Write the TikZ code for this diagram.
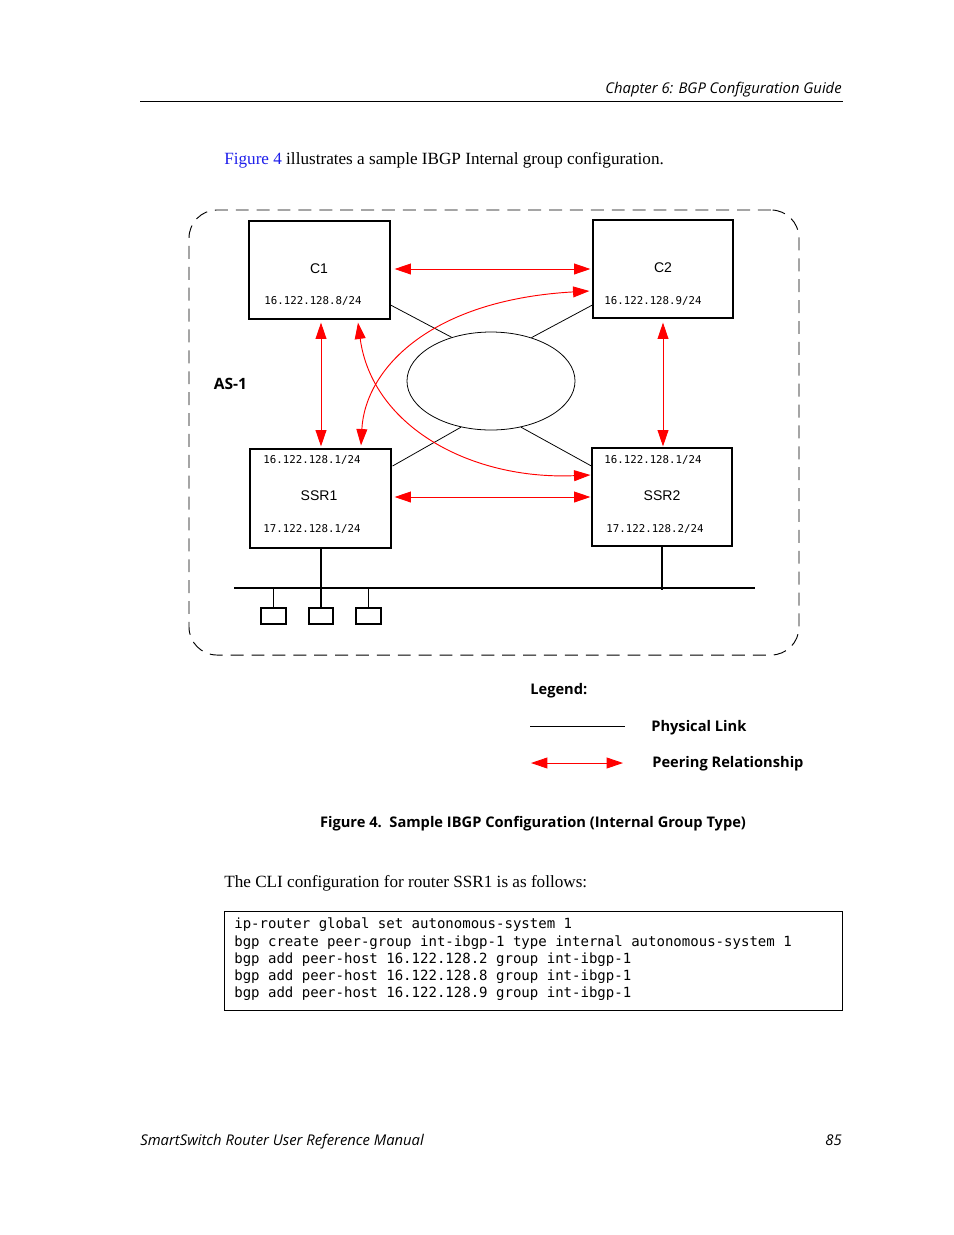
\documentclass[tikz,border=0pt]{standalone}
\usepackage{fontspec}
\setmainfont{Liberation Serif}
\newfontfamily\fsans{Open Sans}
\newfontfamily\fhelv{Liberation Sans}
\newfontfamily\fmono{DejaVu Sans Mono}
\usetikzlibrary{arrows.meta,shapes.geometric,calc}
\definecolor{linkblue}{RGB}{30,30,235}
\begin{document}
\begin{tikzpicture}[x=0.6415pt,y=-0.6415pt,
  box/.style={draw,line width=0.75pt,rectangle,inner sep=0pt},
  phys/.style={line width=0.5pt},
  bus/.style={line width=0.7pt},
  peer/.style={red,line width=0.6pt,{Triangle[length=10.5pt,width=7pt]}-{Triangle[length=10.5pt,width=7pt]}},
  lbl/.style={inner sep=0pt,anchor=base,font=\fhelv\fontsize{9}{10}\selectfont},
  ip/.style={inner sep=0pt,anchor=base,font=\fmono\fontsize{6.9}{8}\selectfont},
  hd/.style={inner sep=0pt,anchor=base,font=\fsans\bfseries\fontsize{9.4}{11}\selectfont},
  codeline/.style={inner sep=0pt,anchor=base west,font=\fmono\fontsize{9}{10}\selectfont},
  body/.style={inner sep=0pt,anchor=base west,font=\fontsize{11}{13}\selectfont},
  page/.style={inner sep=0pt,font=\fsans\itshape\fontsize{9.5}{11}\selectfont}
]
\useasboundingbox[fill=white] (0,0) rectangle (954,1235);

% header
\node[page,anchor=base east] (hdr) at (842,93) {Chapter 6: BGP Configuration Guide};
\coordinate (ruleL) at (140,101);
\coordinate (ruleR) at (843,101);
\draw[line width=0.6pt] (ruleL) -- (ruleR);

\node[body] (intro) at (224,164) {\textcolor{linkblue}{Figure 4} illustrates a sample IBGP Internal group configuration.};

% AS border
\node[draw,dashed,dash pattern=on 8.3pt off 5.1pt,line width=0.6pt,rounded corners=18pt,minimum width=391.3pt,minimum height=285.5pt,inner sep=0pt] (AS) at (494,432.5) {};
\node[hd,font=\fsans\bfseries\fontsize{10}{12}\selectfont] (aslbl) at (230.5,389) {AS-1};

% routers
\node[box,minimum width=90.45pt,minimum height=62.87pt] (C1) at (319.5,270) {};
\node[box,minimum width=89.81pt,minimum height=62.87pt] (C2) at (663,269) {};
\node[box,minimum width=90.45pt,minimum height=63.51pt] (SSR1) at (320.5,498.5) {};
\node[box,minimum width=89.81pt,minimum height=62.87pt] (SSR2) at (662,497) {};

\node[lbl] (C1n) at (319,273) {C1};
\node[ip] (C1ip) at (313,304) {16.122.128.8/24};
\node[lbl] (C2n) at (663,272) {C2};
\node[ip] (C2ip) at (653,304) {16.122.128.9/24};
\node[ip] (S1a) at (312,463) {16.122.128.1/24};
\node[lbl] (S1n) at (319,500) {SSR1};
\node[ip] (S1b) at (312,532) {17.122.128.1/24};
\node[ip] (S2a) at (653,463) {16.122.128.1/24};
\node[lbl] (S2n) at (662,500) {SSR2};
\node[ip] (S2b) at (655,532) {17.122.128.2/24};

% cloud
\node[draw,ellipse,line width=0.5pt,minimum width=107.8pt,minimum height=62.87pt,inner sep=0pt] (E) at (491,381) {};

% physical links
\draw[phys] ($(C1.east)+(0,35)$) -- (E.132);
\draw[phys] ($(C2.west)+(0,36)$) -- (E.47);
\draw[phys] ($(SSR1.east)+(1,-32.5)$) -- (E.237);
\draw[phys] ($(SSR2.west)+(0,-31)$) -- (E.303);

% LAN
\coordinate (busL) at (234,588);
\coordinate (busR) at (755,588);
\draw[bus] (busL) -- (busR);
\node[draw,line width=0.7pt,minimum width=16.04pt,minimum height=10.26pt,inner sep=0pt] (T1) at (273.5,616) {};
\node[draw,line width=0.7pt,minimum width=15.4pt,minimum height=10.26pt,inner sep=0pt] (T2) at (321,616) {};
\node[draw,line width=0.7pt,minimum width=16.04pt,minimum height=10.26pt,inner sep=0pt] (T3) at (368.5,616) {};
\draw[bus] (T1.north) -- (T1.north |- busL);
\draw[bus] (T3.north) -- (T3.north |- busL);
\draw[bus] (SSR1.south -| T2.north) -- (T2.north);
\draw[bus] (SSR2.south) -- ($(SSR2.south |- busL)+(0,2)$);

% peering
\draw[peer] ($(C1.east)+(4,-1)$) -- ($(C2.west)+(-2,0)$);
\draw[peer] ($(SSR1.east)+(3,-1.5)$) -- ($(SSR2.west)+(-1,0)$);
\draw[peer] ($(C1.south)+(1.5,3)$) -- ($(SSR1.north)+(0.5,-2)$);
\draw[peer] ($(C2.south)+(0,4)$) -- ($(SSR2.north)+(1,-1)$);
\draw[peer] ($(C1.south)+(38.5,3)$) .. controls +(14,103) and +(-121,5) .. ($(SSR2.west)+(-1,-22)$);
\draw[peer] ($(SSR1.north)+(40.5,-3)$) .. controls +(4,-76) and +(-160,9) .. ($(C2.west)+(-3,22)$);

% legend
\node[hd,anchor=base west] (leg) at (530,694) {Legend:};
\coordinate (pl1) at (530,726);
\coordinate (pl2) at (625,726);
\draw[phys] (pl1) -- (pl2);
\node[hd,anchor=base west] (plt) at (651,731) {Physical Link};
\coordinate (pr1) at (531,763);
\coordinate (pr2) at (623,763);
\draw[peer] (pr1) -- (pr2);
\node[hd,anchor=base west] (prt) at (652,767) {Peering Relationship};

\node[hd] (cap) at (533,827) {Figure 4.\ \ Sample IBGP Configuration (Internal Group Type)};

\node[body] (cli) at (224,887) {The CLI configuration for router SSR1 is as follows:};

% code box
\node[draw,line width=0.6pt,minimum width=396.4pt,minimum height=63.5pt,inner sep=0pt] (code) at (533,960.5) {};
\node[codeline] (l1) at (234,928) {ip-router global set autonomous-system 1};
\node[codeline] (l2) at (234,946) {bgp create peer-group int-ibgp-1 type internal autonomous-system 1};
\node[codeline] (l3) at (234,963) {bgp add peer-host 16.122.128.2 group int-ibgp-1};
\node[codeline] (l4) at (234,980) {bgp add peer-host 16.122.128.8 group int-ibgp-1};
\node[codeline] (l5) at (234,997) {bgp add peer-host 16.122.128.9 group int-ibgp-1};

% footer
\node[page,anchor=base west] (ftl) at (140,1145) {SmartSwitch Router User Reference Manual};
\node[page,anchor=base east] (ftr) at (842,1145) {85};
\end{tikzpicture}
\end{document}
